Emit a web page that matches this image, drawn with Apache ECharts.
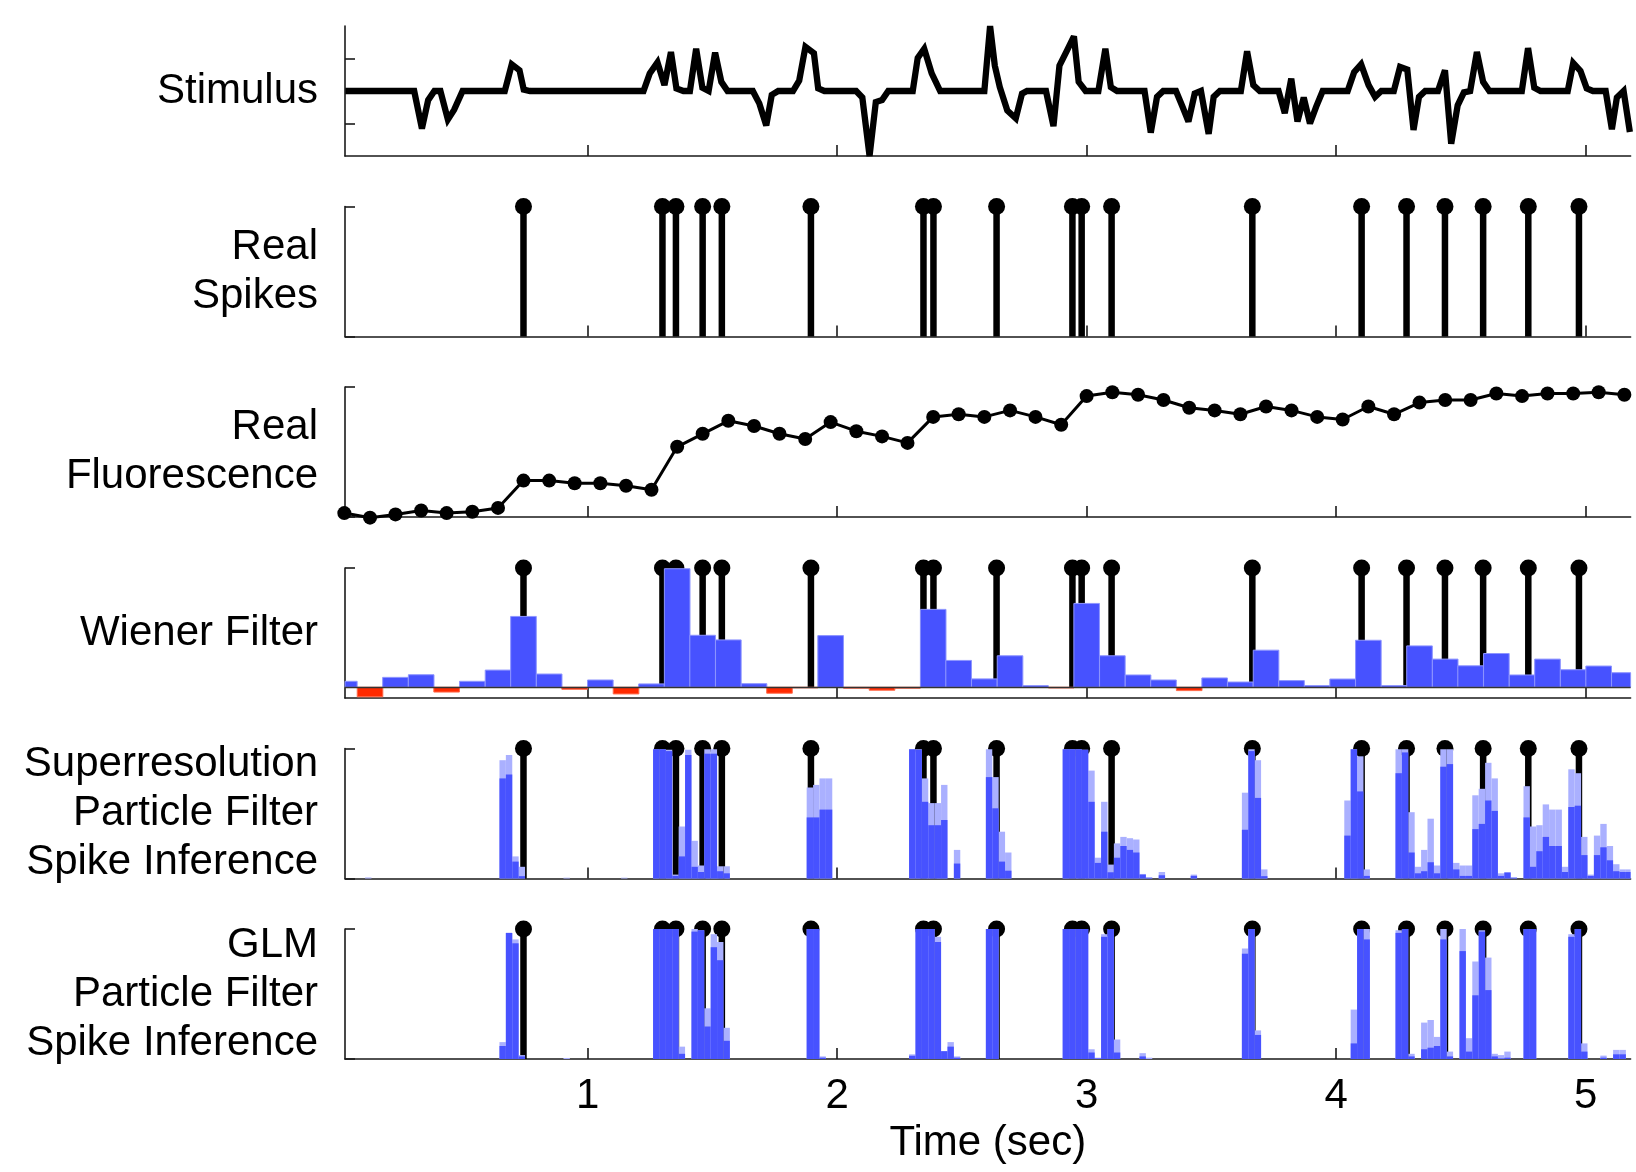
<!DOCTYPE html>
<html><head><meta charset="utf-8">
<script src="https://cdn.jsdelivr.net/npm/echarts@6/dist/echarts.min.js"></script>
<style>html,body{margin:0;padding:0;background:#fff}#c{width:1636px;height:1172px}</style>
</head><body><div id="c"></div>
<script>
// ---------- data ----------
const panelLabels = ['Stimulus', 'Real\nSpikes', 'Real\nFluorescence', 'Wiener Filter',
  'Superresolution\nParticle Filter\nSpike Inference', 'GLM\nParticle Filter\nSpike Inference'];
const xTicks = [1, 2, 3, 4, 5];
const xAxisName = 'Time (sec)';

const stimT = [0.029,0.305,0.336,0.361,0.386,0.410,0.440,0.465,0.499,0.668,
  0.696,0.727,0.744,0.769,1.224,1.249,1.280,1.308,1.334,1.356,
  1.384,1.410,1.435,1.460,1.485,1.511,1.536,1.561,1.662,1.688,
  1.716,1.738,1.764,1.823,1.848,1.873,1.907,1.924,1.949,2.076,
  2.101,2.130,2.155,2.180,2.205,2.303,2.323,2.349,2.379,2.413,
  2.590,2.613,2.632,2.652,2.682,2.716,2.741,2.761,2.837,2.867,
  2.891,2.921,2.949,2.968,2.996,3.047,3.075,3.097,3.122,3.232,
  3.257,3.282,3.307,3.358,3.383,3.408,3.433,3.458,3.489,3.509,
  3.534,3.618,3.643,3.668,3.694,3.769,3.794,3.820,3.845,3.870,
  3.895,3.920,3.946,4.046,4.072,4.100,4.130,4.156,4.181,4.231,
  4.256,4.285,4.310,4.332,4.357,4.408,4.436,4.461,4.487,4.512,
  4.537,4.564,4.589,4.614,4.744,4.769,4.794,4.819,4.928,4.950,
  4.979,5.004,5.029,5.080,5.105,5.125,5.152,5.177];
const stimV = [0,0,-0.58,-0.14,0,0,-0.44,-0.29,0,0,
  0.41,0.32,0.02,0,0,0.27,0.44,0.09,0.60,0.04,
  0,0,0.65,0.05,0,0.59,0.14,0,0,-0.19,
  -0.53,-0.06,0,0,0.16,0.68,0.58,0.04,0,0,
  -0.10,-1.0,-0.17,-0.14,0,0,0.51,0.65,0.27,0,
  0,1.0,0.39,0.06,-0.30,-0.42,-0.04,0,0,-0.54,
  0.39,0.62,0.84,0.14,0,0,0.65,0.06,0,0,
  -0.64,-0.09,0,0,-0.23,-0.47,-0.04,0,-0.66,-0.09,
  0,0,0.61,0.09,0,0,-0.34,0.19,-0.47,-0.10,
  -0.50,-0.24,0,0,0.29,0.41,0.09,-0.09,0,0,
  0.37,0.33,-0.60,-0.09,0,0,0.32,-0.81,-0.22,-0.02,
  0,0.60,0.14,0,0,0.66,0.05,0,0,0.43,
  0.31,0.04,0,0,-0.59,-0.10,0,-0.63];

const spikeT = [0.743,1.300,1.354,1.461,1.538,1.895,2.346,2.386,2.639,2.943,
  2.980,3.100,3.664,4.102,4.282,4.436,4.589,4.770,4.973];

const frameT = [0.025,0.128,0.230,0.333,0.435,0.538,0.641,0.743,0.846,0.948,
  1.051,1.154,1.256,1.359,1.461,1.564,1.667,1.769,1.872,1.974,
  2.077,2.180,2.282,2.385,2.487,2.590,2.693,2.795,2.898,3.000,
  3.103,3.206,3.308,3.411,3.513,3.616,3.719,3.821,3.924,4.026,
  4.129,4.232,4.334,4.437,4.539,4.642,4.745,4.847,4.950,5.052,5.155];
const fluorV = [0.03,-0.005,0.02,0.05,0.03,0.04,0.07,0.28,0.28,0.26,
  0.26,0.24,0.21,0.54,0.64,0.74,0.70,0.64,0.60,0.73,
  0.66,0.62,0.57,0.77,0.79,0.77,0.82,0.77,0.71,0.93,
  0.96,0.94,0.90,0.84,0.82,0.79,0.85,0.82,0.77,0.75,
  0.85,0.79,0.88,0.90,0.90,0.95,0.93,0.95,0.95,0.96,0.94];
const wienerV = [0.05,-0.08,0.083,0.105,-0.04,0.05,0.144,0.594,0.111,-0.017,
  0.061,-0.056,0.028,0.994,0.436,0.397,0.03,-0.05,-0.005,0.433,
  -0.008,-0.025,-0.008,0.653,0.225,0.07,0.264,0.014,-0.006,0.703,
  0.264,0.103,0.061,-0.028,0.078,0.044,0.311,0.056,0.014,0.069,
  0.394,0.014,0.347,0.236,0.18,0.283,0.103,0.236,0.147,0.178,0.122];

// fine time bins (index -> time = BIN_T0 + index * BIN_DT)
const BIN_T0 = 0.0183, BIN_DT = 0.02565;
const srBin = [4,25,26,27,28,35,44,49,50,51,52,53,54,55,56,57,58,59,60,73,74,75,76,89,90,91,92,93,94,96,
  101,102,103,104,113,114,115,116,117,118,119,120,121,122,123,124,125,126,128,133,141,142,143,144,157,158,159,160,
  165,166,167,168,169,170,171,172,173,174,175,176,177,178,179,180,181,182,183,
  185,186,187,188,189,190,191,192,193,194,195,196,197,198,199,200,201];
const srUpper = [0.008,0.91,0.95,0.17,0.09,0.006,0.006,0.995,0.995,0.99,0.03,0.40,0.99,0.29,0.10,0.995,0.995,0.094,0.094,
  0.70,0.72,0.77,0.77,0.995,0.995,0.77,0.58,0.58,0.72,0.22,
  0.995,0.78,0.36,0.20,0.995,0.995,0.995,0.99,0.83,0.16,0.59,0.107,0.27,0.32,0.31,0.30,0.035,0.01,0.05,0.03,
  0.66,0.995,0.91,0.07,0.60,0.995,0.94,0.07,
  0.995,0.995,0.51,0.09,0.22,0.46,0.10,0.995,0.995,0.12,0.10,0.10,0.64,0.69,0.89,0.77,0.04,0.05,0.01,
  0.71,0.40,0.41,0.57,0.53,0.53,0.09,0.84,0.81,0.32,0.03,0.33,0.42,0.25,0.11,0.07,0.07];
const srMean = [0,0.77,0.80,0.13,0.018,0,0,0.995,0.995,0.98,0.02,0.17,0.95,0.09,0.05,0.96,0.96,0.056,0.04,
  0.47,0.47,0.53,0.53,0.995,0.99,0.59,0.41,0.41,0.45,0.115,
  0.78,0.54,0.13,0.06,0.995,0.995,0.995,0.99,0.59,0.12,0.36,0.048,0.16,0.25,0.22,0.20,0.03,0.005,0.025,0.02,
  0.375,0.98,0.62,0.018,0.33,0.995,0.67,0.02,
  0.81,0.97,0.20,0.04,0.056,0.125,0.04,0.86,0.88,0.07,0.02,0.02,0.38,0.42,0.60,0.52,0.02,0.045,0.005,
  0.47,0.09,0.21,0.32,0.25,0.25,0.05,0.55,0.56,0.18,0.02,0.18,0.24,0.14,0.056,0.05,0.05];

const glmBin = [25,26,27,28,35,49,50,51,52,53,55,56,57,58,59,60,73,74,75,89,90,91,92,93,94,95,96,101,102,
  113,114,115,116,117,118,119,120,121,125,126,141,142,143,158,159,160,165,166,167,169,170,171,172,173,
  175,176,177,178,179,180,181,182,185,186,192,193,194,197,199,200];
const glmUpper = [0.13,0.97,0.92,0.03,0.008,1,1,1,1,0.095,1,0.99,0.39,0.96,0.90,0.24,1,1,0.02,
  0.036,1,1,1,0.94,0.06,0.13,0.02,1,1,
  1,1,1,1,0.075,0.01,0.96,1,0.15,0.045,0.01,0.85,1,0.22,0.38,1,1,0.99,1,0.04,0.28,0.30,0.17,1,0.057,
  1,0.16,0.75,0.99,0.78,0.04,0.03,0.057,1,1,0.96,1,0.12,0.026,0.07,0.07];
const glmMean = [0.10,0.97,0.89,0.02,0,1,1,1,1,0.04,0.98,0.99,0.25,0.86,0.76,0.14,1,1,0.01,
  0.025,1,1,1,0.90,0.06,0.095,0.01,1,1,
  1,1,1,1,0.05,0.005,0.94,1,0.05,0.02,0,0.81,1,0.185,0.12,1,0.92,0.97,1,0.02,0.075,0.087,0.10,0.92,0.02,
  0.83,0.057,0.49,0.98,0.53,0.02,0.005,0.01,1,1,0.94,1,0.057,0.01,0.036,0.036];

// ---------- layout / style ----------
const FONT = "'Liberation Sans', Arial, Helvetica, sans-serif";
const X_MIN = 0.0277, X_MAX = 5.18;
const FRAME_DT = 0.1026;
const gridTops = [26, 206.5, 387, 568, 748.5, 929];
const GRID_H = 130;
const AX = '#1a1a1a';
const BLUE = '#4752ff', LIGHT = '#aab0ff', RED = '#ff2a00';
const yCfg = [
  {min: -1, max: 1, ticks: [-0.5, 0.5]},
  {min: 0, max: 1, ticks: [0, 1]},
  {min: 0, max: 1, ticks: [0, 1]},
  {min: -0.09, max: 1, ticks: [1]},
  {min: 0, max: 1, ticks: [0, 1]},
  {min: 0, max: 1, ticks: [0, 1]}
];

const chart = echarts.init(document.getElementById('c'), null, {renderer: 'canvas'});

function rectItem(width, styleFn) {
  return function (params, api) {
    const t = api.value(0), v = api.value(1);
    const a = api.coord([t - width / 2, Math.max(v, 0)]);
    const b = api.coord([t + width / 2, Math.min(v, 0)]);
    const cs = params.coordSys;
    const r = echarts.graphic.clipRectByRect(
      {x: a[0], y: a[1], width: b[0] - a[0], height: b[1] - a[1]},
      {x: cs.x, y: cs.y, width: cs.width, height: cs.height});
    if (!r) return null;
    return {type: 'rect', shape: r, style: styleFn(v)};
  };
}

function stemSeries(gi) {
  return {
    type: 'custom', xAxisIndex: gi, yAxisIndex: gi, z: 1, silent: true,
    data: spikeT.map(t => [t, 1]), encode: {x: 0, y: 1},
    renderItem: function (params, api) {
      const p0 = api.coord([api.value(0), 0]);
      const p1 = api.coord([api.value(0), api.value(1)]);
      return {type: 'group', children: [
        {type: 'line', shape: {x1: p0[0], y1: p0[1], x2: p1[0], y2: p1[1]}, style: {stroke: '#000', lineWidth: 6.5}},
        {type: 'circle', shape: {cx: p1[0], cy: p1[1], r: 8.5}, style: {fill: '#000'}}
      ]};
    }
  };
}

function binSeries(gi, bins, vals, color, z) {
  return {
    type: 'custom', xAxisIndex: gi, yAxisIndex: gi, z: z, silent: true,
    data: bins.map((j, i) => [BIN_T0 + j * BIN_DT, vals[i]]), encode: {x: 0, y: 1},
    renderItem: rectItem(BIN_DT, () => ({fill: color}))
  };
}

const option = {
  animation: false,
  backgroundColor: '#fff',
  textStyle: {fontFamily: FONT},
  grid: gridTops.map(top => ({left: 345, right: 5.4, top: top, height: GRID_H})),
  xAxis: gridTops.map((_, i) => ({
    type: 'value', gridIndex: i, min: X_MIN, max: X_MAX,
    axisLine: {show: true, onZero: false, lineStyle: {color: AX, width: 1.6}},
    axisTick: {show: true, inside: true, length: 11, customValues: xTicks, lineStyle: {color: AX, width: 1.6}},
    axisLabel: {show: i === 5, customValues: xTicks, fontSize: 42, color: '#000', fontFamily: FONT, margin: 16},
    splitLine: {show: false},
    name: i === 5 ? xAxisName : '',
    nameLocation: 'middle', nameGap: 63,
    nameTextStyle: {fontSize: 42, color: '#000', fontFamily: FONT}
  })),
  yAxis: yCfg.map((c, i) => ({
    type: 'value', gridIndex: i, min: c.min, max: c.max,
    axisLine: {show: true, onZero: false, lineStyle: {color: AX, width: 1.6}},
    axisTick: {show: true, inside: true, length: 10, customValues: c.ticks, lineStyle: {color: AX, width: 1.6}},
    axisLabel: {show: false},
    splitLine: {show: false},
    name: panelLabels[i], nameLocation: 'middle', nameRotate: 0, nameGap: 27,
    nameTextStyle: {fontSize: 42, lineHeight: 49, color: '#000', fontFamily: FONT,
      align: 'right', verticalAlign: 'middle', padding: [12, 0, 0, 0]}
  })),
  series: [
    {type: 'line', xAxisIndex: 0, yAxisIndex: 0, clip: false, symbol: 'none', showSymbol: false,
      data: stimT.map((t, i) => [t, stimV[i]]),
      lineStyle: {color: '#000', width: 6.3, join: 'miter', miterLimit: 3}},
    stemSeries(1),
    {type: 'line', xAxisIndex: 2, yAxisIndex: 2, clip: false, symbol: 'circle', symbolSize: 14, showSymbol: true,
      data: frameT.map((t, i) => [t, fluorV[i]]),
      itemStyle: {color: '#000'}, lineStyle: {color: '#000', width: 3}},
    stemSeries(3),
    {type: 'custom', xAxisIndex: 3, yAxisIndex: 3, z: 2, silent: true,
      data: frameT.map((t, i) => [t, wienerV[i]]), encode: {x: 0, y: 1},
      renderItem: rectItem(FRAME_DT, v => v >= 0
        ? {fill: BLUE, stroke: '#8d94ff', lineWidth: 1}
        : {fill: RED, stroke: '#ff6a4a', lineWidth: 1}),
      markLine: {silent: true, symbol: 'none', label: {show: false}, z: 5,
        lineStyle: {color: '#333', width: 1.4, type: 'solid'}, data: [{yAxis: 0}]}},
    stemSeries(4),
    binSeries(4, srBin, srUpper, LIGHT, 2),
    binSeries(4, srBin, srMean, BLUE, 3),
    stemSeries(5),
    binSeries(5, glmBin, glmUpper, LIGHT, 2),
    binSeries(5, glmBin, glmMean, BLUE, 3)
  ]
};
chart.setOption(option);
</script>
</body></html>
